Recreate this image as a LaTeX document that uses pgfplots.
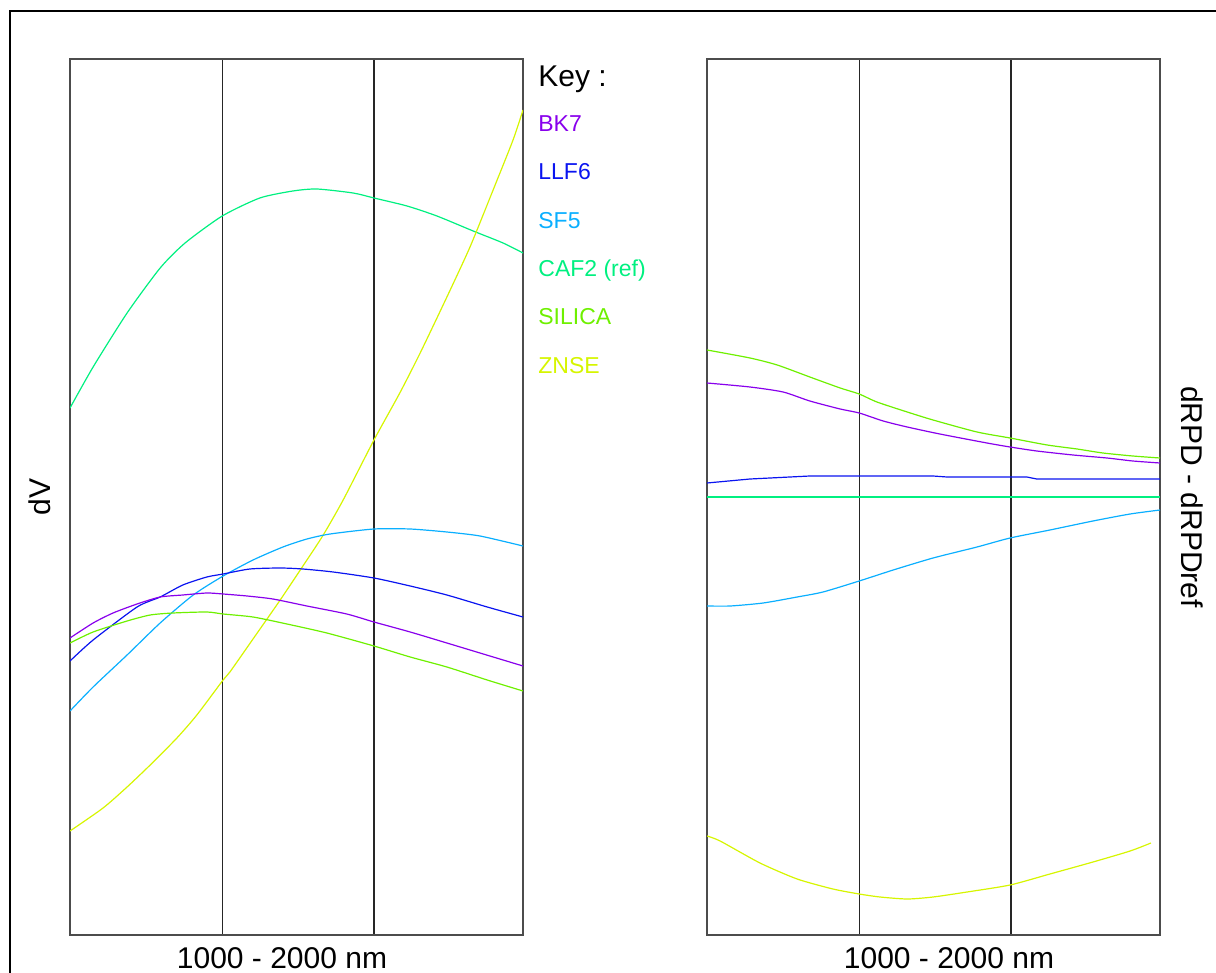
\documentclass[border=0pt]{standalone}
\usepackage{pgfplots}
\pgfplotsset{compat=1.18}
\usepackage{fontspec}
\setmainfont{Liberation Sans}
\definecolor{cBK}{RGB}{136,0,236}
\definecolor{cLL}{RGB}{10,20,240}
\definecolor{cSF}{RGB}{10,175,255}
\definecolor{cCA}{RGB}{0,240,128}
\definecolor{cSI}{RGB}{110,240,0}
\definecolor{cZN}{RGB}{214,245,0}
\begin{document}
\begin{tikzpicture}
\useasboundingbox (0,0) rectangle (608pt,-486.5pt);
\draw[line width=0.8pt] (5pt,-490pt) -- (5pt,-5.5pt) -- (612pt,-5.5pt);
\pgfplotsset{panel/.style={scale only axis, width=226.5pt, height=438pt,
  xmin=1000, xmax=2000, ymin=0, ymax=876,
  xtick={1336,1671}, xticklabels={}, ytick=\empty,
  xmajorgrids, major grid style={black!85, line width=0.65pt},
  major tick length=0pt,
  axis line style={black!70, line width=0.75pt},
  every axis plot/.append style={line width=0.6pt, no markers},
  anchor=north west}}
% left panel
\begin{axis}[panel, at={(35pt,-29.5pt)}]
\addplot[cCA, smooth, tension=0.4] coordinates {(1000,527) (1051,568) (1126,622) (1199,667) (1254,692) (1336,719) (1419,737) (1492,744) (1545,746) (1625,742) (1671,737) (1744,729) (1810,719) (1890,704) (1956,692) (2000,682)};
\addplot[cZN, smooth, tension=0.4] coordinates {(1000,104) (1073,127) (1126,148) (1177,170) (1236,197) (1280,220) (1338,255) (1353,263) (1404,296) (1464,335) (1523,375) (1559,400) (1603,435) (1671,495) (1728,542) (1773,582) (1832,638) (1883,688) (1934,745) (1978,795) (2000,825)};
\addplot[cSF, smooth, tension=0.4] coordinates {(1000,224) (1051,248) (1126,280) (1199,312) (1272,340) (1338,359) (1404,375) (1470,388) (1523,396) (1574,401) (1671,406) (1751,406) (1832,403) (1905,399) (2000,389)};
\addplot[cLL, smooth, tension=0.4] coordinates {(1000,274) (1051,295) (1148,328) (1199,338) (1249,350) (1302,358) (1338,361) (1397,366) (1464,367) (1514,366) (1581,363) (1671,357) (1751,349) (1832,340) (1921,328) (2000,318)};
\addplot[cBK, smooth, tension=0.4] coordinates {(1000,297) (1051,312) (1095,322) (1148,331) (1199,338) (1249,340) (1302,342) (1338,341) (1391,339) (1448,336) (1523,329) (1611,321) (1671,313) (1751,303) (1832,292) (1905,282) (2000,269)};
\addplot[cSI, smooth, tension=0.4] coordinates {(1000,292) (1051,303) (1126,314) (1177,320) (1227,322) (1302,323) (1338,321) (1404,318) (1479,311) (1567,302) (1671,289) (1751,278) (1832,268) (1921,255) (2000,244)};
\end{axis}
% right panel
\begin{axis}[panel, at={(353.5pt,-29.5pt)}]
\addplot[cSI, smooth, tension=0.4] coordinates {(1000,585) (1095,577) (1155,570) (1227,558) (1294,547) (1336,541) (1375,533) (1442,523) (1499,515) (1596,503) (1669,497) (1751,490) (1817,486) (1874,482) (1940,479) (2000,477)};
\addplot[cBK, smooth, tension=0.4] coordinates {(1000,552) (1095,548) (1168,543) (1227,534) (1294,526) (1336,522) (1389,514) (1442,508) (1514,501) (1618,492) (1669,488) (1728,484) (1808,480) (1883,477) (1940,474) (2000,472)};
\addplot[cLL] coordinates {(1000,452) (1095,456) (1227,459) (1499,459) (1530,458) (1706,458) (1728,456) (2000,456)};
\addplot[cCA] coordinates {(1000,438) (2000,438)};
\addplot[cSF, smooth, tension=0.4] coordinates {(1000,329) (1051,329) (1124,332) (1199,338) (1256,343) (1336,354) (1411,365) (1499,377) (1596,388) (1669,397) (1757,405) (1852,414) (1934,421) (2000,425)};
\addplot[cZN, smooth, tension=0.4] coordinates {(1000,99) (1029,94) (1117,72) (1199,56) (1278,46) (1336,41) (1382,38) (1442,36) (1499,38) (1574,43) (1669,50) (1757,61) (1852,73) (1934,84) (1980,92)};
\end{axis}
% labels
\node[anchor=base, font=\fontsize{15}{18}\selectfont] at (141pt,-484pt) {1000 - 2000 nm};
\node[anchor=base, font=\fontsize{15}{18}\selectfont] at (474.5pt,-484pt) {1000 - 2000 nm};
\node[rotate=90, font=\fontsize{15}{18}\selectfont] at (20pt,-248.5pt) {dV};
\node[rotate=-90, font=\fontsize{15}{18}\selectfont] at (596pt,-248.5pt) {dRPD - dRPDref};
% key
\node[anchor=base west, inner sep=0pt, font=\fontsize{15}{18}\selectfont] at (269pt,-43.3pt) {Key :};
\node[anchor=base west, inner sep=0pt, text=cBK, font=\fontsize{11.5}{14}\selectfont] at (269pt,-65.8pt) {BK7};
\node[anchor=base west, inner sep=0pt, text=cLL, font=\fontsize{11.5}{14}\selectfont] at (269pt,-90pt) {LLF6};
\node[anchor=base west, inner sep=0pt, text=cSF, font=\fontsize{11.5}{14}\selectfont] at (269pt,-114.2pt) {SF5};
\node[anchor=base west, inner sep=0pt, text=cCA, font=\fontsize{11.5}{14}\selectfont] at (269pt,-138.3pt) {CAF2 (ref)};
\node[anchor=base west, inner sep=0pt, text=cSI, font=\fontsize{11.5}{14}\selectfont] at (269pt,-162.5pt) {SILICA};
\node[anchor=base west, inner sep=0pt, text=cZN, font=\fontsize{11.5}{14}\selectfont] at (269pt,-186.7pt) {ZNSE};
\end{tikzpicture}
\end{document}
